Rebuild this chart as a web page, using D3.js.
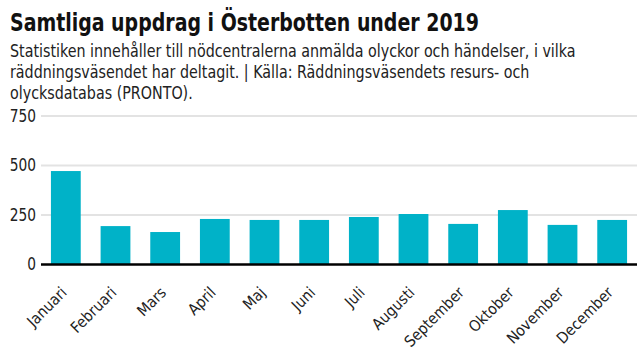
<!DOCTYPE html>
<html><head><meta charset="utf-8">
<script src="https://cdn.jsdelivr.net/npm/d3@7"></script>
<style>
body{margin:0;background:#fff;}
svg{display:block;font-family:"DejaVu Sans Condensed","DejaVu Sans",sans-serif;}
</style></head>
<body><svg id="c" width="640" height="360"></svg>
<script>
const months = ["Januari","Februari","Mars","April","Maj","Juni","Juli","Augusti","September","Oktober","November","December"];
const values = [472,194,164,230,225,225,240,255,205,275,200,225];
const yTicks = [0,250,500,750];
const title = "Samtliga uppdrag i Österbotten under 2019";
const subtitle = ["Statistiken innehåller till nödcentralerna anmälda olyckor och händelser, i vilka","räddningsväsendet har deltagit. | Källa: Räddningsväsendets resurs- och","olycksdatabas (PRONTO)."];

const svg = d3.select("#c");
const FF = '"DejaVu Sans Condensed","DejaVu Sans",sans-serif';

const tg = svg.append("g").attr("transform","translate(10,0)");
const tt = tg.append("text").attr("x",0).attr("y",31).attr("font-size",25).attr("font-weight","bold").attr("fill","#111").text(title);
const tw = tt.node().getComputedTextLength();
tg.attr("transform",`translate(10,0) scale(${469/tw},1)`);

const sg = svg.append("g");
const st = sg.selectAll("text").data(subtitle).join("text")
  .attr("x",0).attr("y",(d,i)=>57+i*21).attr("font-size",17).attr("fill","#222").text(d=>d);
const sw = st.node().getComputedTextLength();
sg.attr("transform",`translate(10,0) scale(${566/sw},1)`);

const x = d3.scaleBand().domain(months).range([41,637]).paddingInner(0.4).paddingOuter(0.2);
const y = d3.scaleLinear().domain([0,750]).range([264.5,116]);

const g = svg.append("g");
g.selectAll("line.grid").data(yTicks.filter(d=>d>0)).join("line").attr("class","grid")
  .attr("x1",41).attr("x2",637).attr("y1",d=>y(d)).attr("y2",d=>y(d))
  .attr("stroke","#e3e3e3").attr("stroke-width",2);
g.selectAll("text.yt").data(yTicks).join("text").attr("class","yt")
  .attr("x",36).attr("y",d=>y(d)+6).attr("text-anchor","end").attr("font-size",17).attr("fill","#222")
  .attr("transform","translate(36,0) scale(0.9,1) translate(-36,0)").text(d=>d);

g.selectAll("rect").data(values).join("rect")
  .attr("x",(d,i)=>x(months[i])).attr("width",x.bandwidth())
  .attr("y",d=>y(d)).attr("height",d=>y(0)-y(d)).attr("fill","#00b2c8");

g.append("line").attr("x1",41).attr("x2",637).attr("y1",y(0)).attr("y2",y(0)).attr("stroke","#000").attr("stroke-width",2.5);

const xAxis = svg.append("g").attr("transform",`translate(0,${y(0)})`)
  .call(d3.axisBottom(x).tickSize(0).tickPadding(0));
xAxis.attr("font-family",FF).attr("font-size",15.5);
xAxis.select(".domain").remove();
xAxis.selectAll("text").attr("fill","#222")
  .attr("text-anchor","end").attr("transform","translate(2,29) rotate(-45)").attr("dy",0).attr("y",0);
</script></body></html>
